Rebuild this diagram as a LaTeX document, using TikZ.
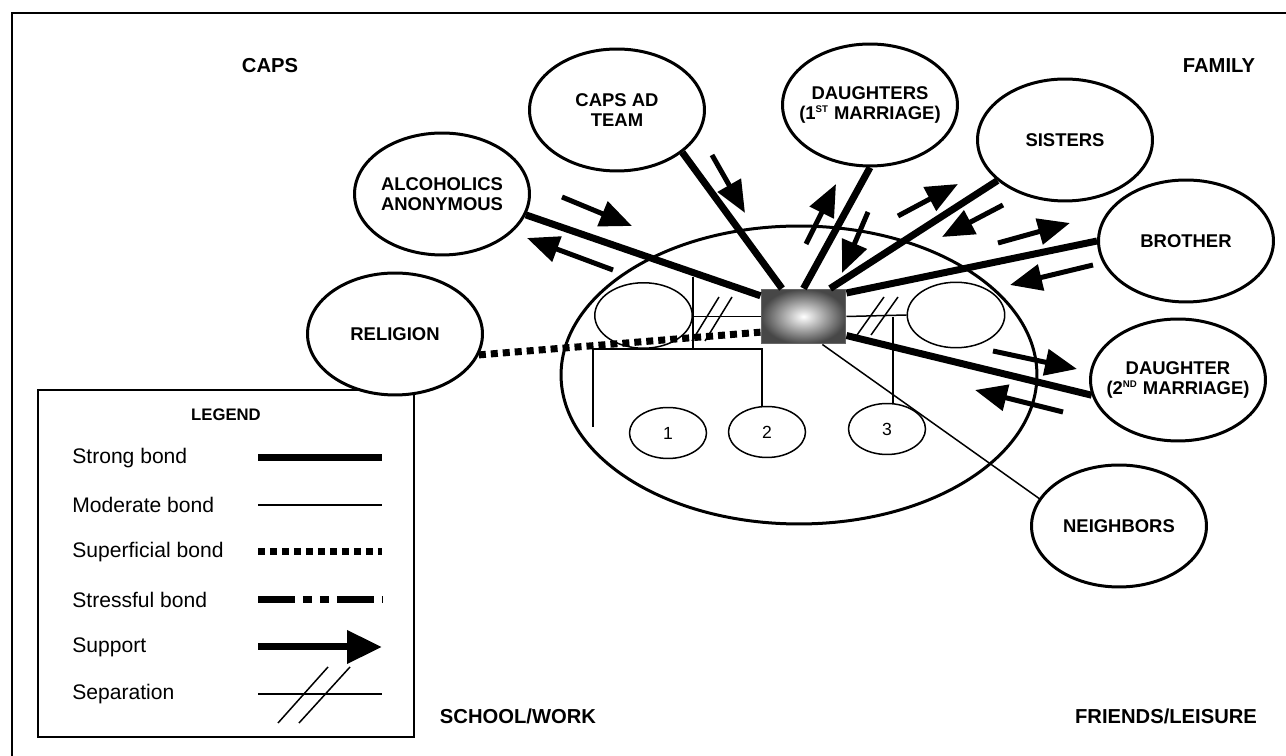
\documentclass[tikz,border=0pt]{standalone}
\usepackage{fontspec}
\setmainfont{Liberation Sans}
\setsansfont{Liberation Sans}
\usepackage{tikz}
\usetikzlibrary{calc}
\usetikzlibrary{positioning}
\usetikzlibrary{arrows.meta}
\usetikzlibrary{shapes.geometric}

\begin{document}
\begin{tikzpicture}[x=0.02cm, y=-0.02cm, >={Triangle[length=0.64cm, width=0.52cm]}, font=\sffamily]
\tikzstyle{systemnode}=[draw=black, fill=white, ellipse, line width=0.06cm, minimum width=3.5cm, minimum height=2.44cm, inner xsep=-0.25cm, inner ysep=0pt, align=center, font=\bfseries\fontsize{10.5}{11.4}\selectfont]
\tikzstyle{membernode}=[draw=black, ellipse, line width=0.03cm, minimum width=1.95cm, minimum height=1.31cm]
\tikzstyle{kidnode}=[draw=black, ellipse, line width=0.03cm, minimum width=1.54cm, minimum height=1.02cm, font=\fontsize{10}{12}\selectfont]
\tikzstyle{strong}=[line width=0.14cm]
\tikzstyle{moderate}=[line width=0.03cm]
\tikzstyle{superficial}=[line width=0.14cm, dash pattern=on 0.14cm off 0.1cm]
\tikzstyle{stressful}=[line width=0.14cm, dash pattern=on 0.74cm off 0.16cm on 0.18cm off 0.16cm on 0.18cm off 0.16cm]
\tikzstyle{support}=[line width=0.1cm, ->]
\tikzstyle{area}=[font=\bfseries\fontsize{11.5}{13}\selectfont]
\tikzstyle{annot}=[anchor=west, inner sep=0pt, font=\fontsize{12}{14}\selectfont]
\newcommand{\sups}[1]{\textsuperscript{\fontsize{5.5}{6}\selectfont #1}}

\useasboundingbox (0,0) rectangle (1286,756);
\draw[line width=0.04cm] (12,800) -- (12,13) -- (1320,13);

% quadrants
\node[area] (caps) at (270,66) {CAPS};
\node[area] (family) at (1219,66) {FAMILY};
\node[area] (school) at (518,716) {SCHOOL/WORK};
\node[area] (friends) at (1166,716) {FRIENDS/LEISURE};

% legend
\node[draw=black, line width=0.04cm, minimum width=7.52cm, minimum height=6.94cm] (legend) at (226,563.5) {};
\node[font=\bfseries\fontsize{9.5}{11}\selectfont] (legendtitle) at (226,415) {LEGEND};
\foreach \lbl/\sty/\yy in {Strong bond/strong/458, Moderate bond/moderate/505, Superficial bond/superficial/552, Stressful bond/stressful/600}{
  \node[annot] (key\yy) at (72,\yy) {\lbl};
  \draw[\sty] (258,\yy) -- (382,\yy);
}
\node[annot] (key647) at (72,647) {Support};
\draw[line width=0.14cm, -{Triangle[length=0.7cm, width=0.64cm]}] (258,647) -- (382,647);
\node[annot] (key694) at (72,694) {Separation};
\draw[moderate] (258,694) -- (382,694);
\draw[moderate] (278,723) -- (328,667);
\draw[moderate] (299,723) -- (350,667);

% household
\node[draw=black, ellipse, line width=0.06cm, minimum width=9.52cm, minimum height=5.96cm] (household) at (799,375) {};
\node[draw=black!60, line width=0.02cm, shading=radial, inner color=white, outer color=black!72, minimum width=1.7cm, minimum height=1.1cm] (client) at (803.5,316.5) {};
\node[membernode] (member1) at (643.5,315.5) {};
\node[membernode] (member2) at (956,315) {};
\node[kidnode] (kid1) at (668,433) {1};
\node[kidnode] (kid2) at (767,432) {2};
\node[kidnode] (kid3) at (887,429) {3};

\coordinate (m1top) at (693,277);
\coordinate (m1bot) at (693,349);
\coordinate (kidleft) at (593,349);
\coordinate (kidend) at (593,427);
\coordinate (kidright) at (762,349);
\coordinate (m2drop) at (893,317);

\draw[moderate] (m1top) -- (m1bot);
\draw[moderate] (m1top |- client.west) -- (client.west);
\draw[moderate] (client.east) -- (member2.west);
\draw[moderate] (kidend) -- (kidleft) -- (kidright) -- ($(kid2.north)+(-5,0)$);
\draw[moderate] (m2drop) -- ($(kid3.north)+(6,0)$);
\foreach \dx in {0,13} \draw[moderate] (692+\dx,341) -- (719+\dx,297);
\foreach \dx in {0,14} \draw[moderate] (857+\dx,335) -- (884+\dx,297);

% outside systems
\node[systemnode] (capsad) at (617,110) {CAPS AD\\TEAM};
\node[systemnode] (daughters) at (870,105) {DAUGHTERS\\(1\sups{ST} MARRIAGE)};
\node[systemnode] (sisters) at (1065,140) {SISTERS};
\node[systemnode] (aa) at (442,194) {ALCOHOLICS\\ANONYMOUS};
\node[systemnode] (brother) at (1186,241) {BROTHER};
\node[systemnode] (religion) at (395,334) {RELIGION};
\node[systemnode] (daughter) at (1178,380) {DAUGHTER\\(2\sups{ND} MARRIAGE)};
\node[systemnode] (neighbors) at (1119,526) {NEIGHBORS};

% bonds
\draw[strong] (aa.-14) -- ($(client.north west)!.13!(client.south west)$);
\draw[strong] (capsad.-33) -- ($(client.north west)!.25!(client.north east)$);
\draw[strong] (daughters.-90) -- (client.north);
\draw[strong] (sisters.211) -- ($(client.north west)!.81!(client.north east)$);
\draw[strong] (brother.180) -- ($(client.north east)!.08!(client.south east)$);
\draw[strong] (daughter.190) -- ($(client.north east)!.84!(client.south east)$);
\draw[superficial] (religion.-14) -- ($(client.north west)!.78!(client.south west)$);
\draw[moderate] (neighbors.161) -- ($(client.south west)!.72!(client.south east)$);

% support
\foreach \x/\y/\u/\v in {562/197/632/226, 613/270/527/238, 712/155/745/213, 806/244/836/184, 868/212/842/273, 898/216/958/184, 1003/205/942/237, 998/243/1070/223, 1093/265/1010/285, 993/351/1077/369, 1063/412/975/390}
  \draw[support] (\x,\y) -- (\u,\v);
\end{tikzpicture}
\end{document}
